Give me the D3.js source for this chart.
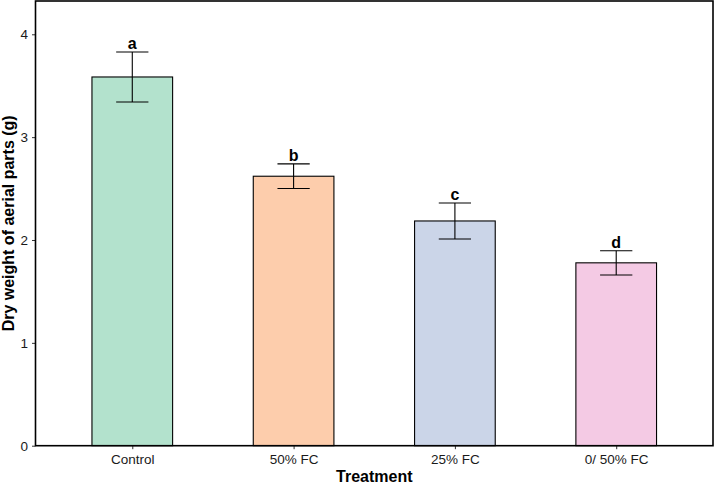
<!DOCTYPE html>
<html><head><meta charset="utf-8">
<script src="https://cdn.jsdelivr.net/npm/d3@7"></script>
<style>body{margin:0;background:#fff}svg{display:block}</style>
</head><body>
<svg id="c" width="715" height="485"></svg>
<script>
const categories = ["Control", "50% FC", "25% FC", "0/ 50% FC"];
const means = [3.585, 2.62, 2.185, 1.778];
const errors = [0.243, 0.12, 0.175, 0.118];
const letters = ["a", "b", "c", "d"];
const colors = ["#B3E2CD", "#FDCDAC", "#CBD5E8", "#F4CAE4"];
const yTicks = [0, 1, 2, 3, 4];

const svg = d3.select("#c");
const L = 35.5, R = 713, T = 1, B = 445.7;
const x = d3.scaleLinear().domain([0.4, 4.6]).range([L, R]);
const y = d3.scaleLinear().domain([0, 4.3237]).range([B, T]);
const bw = x(1.25) - x(1);
const cw = x(1.1) - x(1);
const font = "Arial, 'Liberation Sans', sans-serif";

const g = svg.append("g");
categories.forEach((c, i) => {
  const cx = x(i + 1);
  g.append("rect").attr("x", cx - bw).attr("width", bw * 2)
    .attr("y", y(means[i])).attr("height", y(0) - y(means[i]))
    .attr("fill", colors[i]).attr("stroke", "#000").attr("stroke-width", 1.1);
  const hi = y(means[i] + errors[i]), lo = y(means[i] - errors[i]);
  g.append("line").attr("x1", cx).attr("x2", cx).attr("y1", hi).attr("y2", lo)
    .attr("stroke", "#000").attr("stroke-width", 1.1);
  [hi, lo].forEach(v => g.append("line").attr("x1", cx - cw).attr("x2", cx + cw)
    .attr("y1", v).attr("y2", v).attr("stroke", "#000").attr("stroke-width", 1.1));
  g.append("text").attr("x", cx).attr("y", hi - 3).attr("text-anchor", "middle")
    .attr("font-family", font).attr("font-weight", "bold").attr("font-size", 16)
    .text(letters[i]);
});

// axes
const yAxis = d3.axisLeft(y).tickValues(yTicks).tickSize(3.5).tickPadding(4).tickFormat(d3.format("d"));
const ya = svg.append("g").attr("transform", `translate(${L},0)`).call(yAxis);
const xAxis = d3.axisBottom(x).tickValues([1,2,3,4]).tickSize(3.5).tickPadding(5).tickFormat(d => categories[d-1]);
const xa = svg.append("g").attr("transform", `translate(0,${B})`).call(xAxis);
[ya, xa].forEach(a => {
  a.select(".domain").remove();
  a.selectAll(".tick line").attr("stroke", "#333");
  a.selectAll("text").attr("font-family", font).attr("font-size", 13.5).attr("fill", "#1a1a1a");
});

// panel border
svg.append("rect").attr("x", L).attr("y", T).attr("width", R - L).attr("height", B - T)
  .attr("fill", "none").attr("stroke", "#000").attr("stroke-width", 1.6);

svg.append("text").attr("x", (L + R) / 2).attr("y", 482).attr("text-anchor", "middle")
  .attr("font-family", font).attr("font-weight", "bold").attr("font-size", 16).text("Treatment");
svg.append("text").attr("transform", `translate(13.5,${(T + B) / 2}) rotate(-90)`)
  .attr("text-anchor", "middle").attr("font-family", font).attr("font-weight", "bold")
  .attr("font-size", 16).text("Dry weight of aerial parts (g)");
</script>
</body></html>
